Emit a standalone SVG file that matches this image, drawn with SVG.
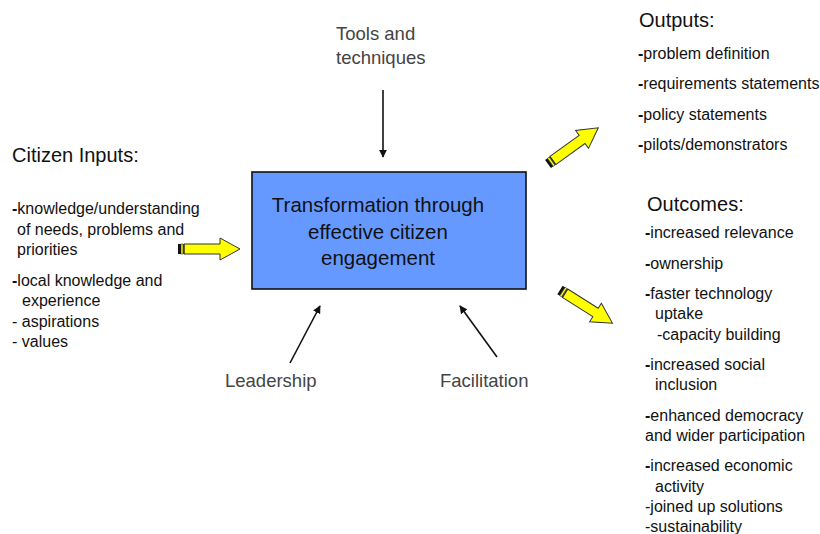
<svg xmlns="http://www.w3.org/2000/svg" width="820" height="534" viewBox="0 0 820 534">
  <style>
    text { font-family: "Liberation Sans", "DejaVu Sans", sans-serif; fill: #111; }
    .head { font-size: 20px; }
    .item { font-size: 16px; }
    .b { font-weight: bold; }
    .lbl { font-size: 18.5px; fill: #444; }
    .core { font-size: 20.5px; text-anchor: middle; }
    .line { stroke: #111; stroke-width: 1.6; fill: none; }
  </style>
  <defs>
    <marker id="tip" viewBox="0 0 10 10" refX="9" refY="5" markerWidth="8" markerHeight="8" markerUnits="userSpaceOnUse" orient="auto">
      <path d="M0,0 L10,5 L0,10 Z" fill="#111"/>
    </marker>
    <!-- block arrow pointing right, tail at origin -->
    <g id="blockArrow">
      <path d="M6,-5 L42,-5 L42,-11 L62,0 L42,11 L42,5 L6,5 Z" fill="#ffff00" stroke="#333" stroke-width="1"/>
      <rect x="0" y="-5" width="3" height="10" fill="#111"/>
      <rect x="3" y="-5" width="2" height="10" fill="#ffff00" stroke="#333" stroke-width="0.6"/>
      <rect x="5" y="-5" width="1.5" height="10" fill="#333"/>
    </g>
  </defs>

  <!-- central node -->
  <g id="core">
    <rect x="252" y="172" width="274" height="117" fill="#6699ff" stroke="#111" stroke-width="1.6"/>
    <text class="core" x="378" y="212">Transformation through</text>
    <text class="core" x="378" y="239">effective citizen</text>
    <text class="core" x="378" y="265">engagement</text>
  </g>

  <g id="tools">
    <text class="lbl" x="336" y="40">Tools and</text>
    <text class="lbl" x="336" y="64">techniques</text>
  </g>

  <g id="leadership">
    <text class="lbl" x="225" y="387">Leadership</text>
  </g>

  <g id="facilitation">
    <text class="lbl" x="440" y="387">Facilitation</text>
  </g>

  <g id="citizen-inputs">
    <text class="head" x="12" y="162">Citizen Inputs:</text>
    <text class="item" x="12" y="214"><tspan class="b">-</tspan>knowledge/understanding</text>
    <text class="item" x="17" y="235">of needs, problems and</text>
    <text class="item" x="17" y="255">priorities</text>
    <text class="item" x="12" y="286"><tspan class="b">-</tspan>local knowledge and</text>
    <text class="item" x="22" y="306">experience</text>
    <text class="item" x="12" y="327">- aspirations</text>
    <text class="item" x="12" y="347">- values</text>
  </g>

  <g id="outputs">
    <text class="head" x="639" y="27">Outputs:</text>
    <text class="item" x="638" y="59"><tspan class="b">-</tspan>problem definition</text>
    <text class="item" x="638" y="89"><tspan class="b">-</tspan>requirements statements</text>
    <text class="item" x="638" y="120"><tspan class="b">-</tspan>policy statements</text>
    <text class="item" x="638" y="150"><tspan class="b">-</tspan>pilots/demonstrators</text>
  </g>

  <g id="outcomes">
    <text class="head" x="647" y="211">Outcomes:</text>
    <text class="item" x="645" y="238"><tspan class="b">-</tspan>increased relevance</text>
    <text class="item" x="645" y="269"><tspan class="b">-</tspan>ownership</text>
    <text class="item" x="645" y="299"><tspan class="b">-</tspan>faster technology</text>
    <text class="item" x="655" y="319">uptake</text>
    <text class="item" x="657" y="340">-capacity building</text>
    <text class="item" x="645" y="370"><tspan class="b">-</tspan>increased social</text>
    <text class="item" x="655" y="390">inclusion</text>
    <text class="item" x="645" y="421"><tspan class="b">-</tspan>enhanced democracy</text>
    <text class="item" x="645" y="441">and wider participation</text>
    <text class="item" x="645" y="471"><tspan class="b">-</tspan>increased economic</text>
    <text class="item" x="655" y="492">activity</text>
    <text class="item" x="645" y="512">-joined up solutions</text>
    <text class="item" x="645" y="532">-sustainability</text>
  </g>

  <!-- connectors -->
  <g id="connectors">
    <line class="line" x1="383" y1="90" x2="383" y2="157" marker-end="url(#tip)"/>
    <line class="line" x1="290" y1="363" x2="320" y2="306" marker-end="url(#tip)"/>
    <line class="line" x1="497" y1="357" x2="460" y2="306" marker-end="url(#tip)"/>
    <use href="#blockArrow" transform="translate(178,249)"/>
    <use href="#blockArrow" transform="translate(548,164) rotate(-35.8)"/>
    <use href="#blockArrow" transform="translate(560,290) rotate(32.3)"/>
  </g>
</svg>
